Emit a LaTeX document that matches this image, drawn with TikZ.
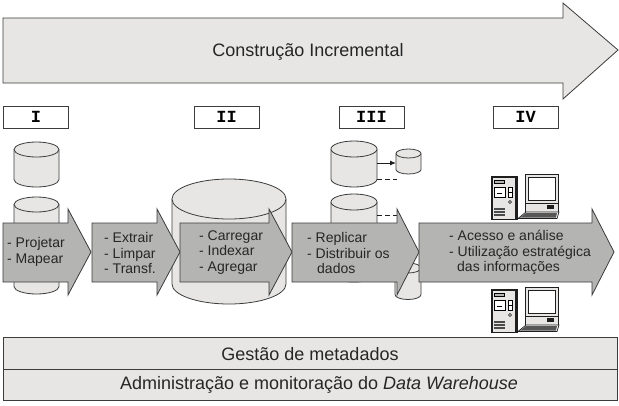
\documentclass[tikz,border=0pt]{standalone}
\usepackage{fontspec}
\setmainfont{Liberation Sans}
\newfontfamily\tagfont{Liberation Mono}
\definecolor{lightfill}{HTML}{E7E6E5}
\definecolor{arrowfill}{HTML}{B4B4B3}
\definecolor{edge}{HTML}{3C3C3C}
\definecolor{tickc}{HTML}{1E1E1E}
\tikzset{
  x=1pt,y=-1pt,
  shapeline/.style={draw=edge,line width=0.8pt,line join=miter},
  lightshape/.style={shapeline,fill=lightfill},
  flowarrow/.style={shapeline,fill=arrowfill},
  tagbox/.style={draw=edge,line width=0.8pt,fill=white,minimum width=65pt,minimum height=22pt,inner sep=0pt,font=\tagfont\bfseries\fontsize{17}{19}\selectfont},
  flowtext/.style={anchor=west,inner sep=0pt,align=left,text=black!85,font=\fontsize{14}{15.8}\selectfont},
  bandtext/.style={inner sep=0pt,text=black!85,font=\fontsize{18}{21}\selectfont},
  pc/.pic={
    % tower
    \draw[line width=0.7pt,draw=tickc,fill=lightfill] (0,2) rectangle (26,45);
    \draw[fill=tickc,draw=none] (0,2) rectangle (2,45);
    \draw[fill=tickc,draw=none] (24,2) rectangle (26,45);
    \draw[fill=tickc,draw=none] (0,2) rectangle (26,4);
    \draw[line width=0.5pt,fill=arrowfill] (3,6) rectangle (13,9);
    \draw[line width=0.6pt,fill=white] (3,13) rectangle (14,23);
    \draw[line width=0.5pt] (6,19) -- (11,19);
    \draw[line width=0.6pt,fill=white] (17,13) rectangle (21,23);
    \draw[line width=0.5pt] (17,18) -- (21,18);
    \draw[line width=0.6pt,fill=white] (19,28) circle (1.5);
    \fill[tickc!80] (3,34) rectangle (14,36);
    \fill[tickc!80] (3,37) rectangle (14,39);
    \fill[tickc!80] (3,40) rectangle (14,42);
    % monitor
    \draw[line width=0.8pt,draw=tickc,fill=lightfill] (34,0) rectangle (67,29);
    \draw[line width=0.8pt,draw=tickc,fill=white] (37,3) rectangle (64,26);
    \draw[line width=0.8pt,draw=tickc,fill=lightfill] (34,29) rectangle (67,38);
    \fill[tickc] (56,31) rectangle (63,35);
    % keyboard
    \draw[line width=0.7pt,draw=tickc,fill=white] (27,44.5) -- (35,38) -- (68,38) -- (66,44.5) -- cycle;
    \fill[tickc!75] (29,43.5) -- (35,39) -- (66,39) -- (65,43.5) -- cycle;
  }
}
\usetikzlibrary{arrows.meta}
\newcommand{\cyl}[5]{% left, right, top centre y, bottom centre y, ry
  \draw[lightshape] (#1,#3) -- (#1,#4) arc[start angle=180,end angle=0,x radius={(#2-#1)/2},y radius=#5] -- (#2,#3);
  \draw[lightshape] ({(#1+#2)/2},#3) ellipse[x radius={(#2-#1)/2},y radius=#5];
}
\newcommand{\flowarrowpath}[3]{% x0 x1 xtip
  \draw[flowarrow] (#1,223) -- (#2,223) -- (#2,209) -- (#3,252) -- (#2,295) -- (#2,282) -- (#1,282) -- cycle;
}
\begin{document}
\begin{tikzpicture}
\useasboundingbox (0,0) rectangle (619,405);
\fill[white] (0,0) rectangle (619,405);
% Incremental construction arrow
\draw[lightshape] (3,18) -- (563,18) -- (563,3) -- (618,50) -- (563,99) -- (563,83) -- (3,83) -- cycle;
\node[bandtext] (title) at (308,51.5) {Construção Incremental};
% Phase tags
\node[tagbox] (t1) at (36,117) {I};
\node[tagbox] (t2) at (226.5,117) {II};
\node[tagbox] (t3) at (371.5,117) {III};
\node[tagbox] (t4) at (525.5,117) {IV};
% Cylinders
\cyl{14}{59}{149.5}{179.5}{7.5}
\cyl{14}{59}{204.5}{286.5}{7.5}
\cyl{172}{286}{199}{284}{20}
\cyl{331}{377}{149}{179}{8}
\cyl{396}{421}{153.5}{169.5}{4.5}
\cyl{331}{377}{202}{274}{8}
\cyl{395}{421}{268}{294.5}{5}
\coordinate (ca) at (377,163);
\coordinate (cb) at (396,163);
\coordinate (da) at (377,179.5);
\coordinate (db) at (397,179.5);
\coordinate (dc) at (377,215);
\coordinate (dd) at (397,215);
\draw[line width=0.9pt,draw=tickc,-{Latex[length=6pt,width=5pt]}] (ca) -- (cb);
\draw[line width=0.8pt,draw=tickc,dash pattern=on 5pt off 3pt] (da) -- (db);
\draw[line width=0.8pt,draw=tickc,dash pattern=on 5pt off 3pt] (dc) -- (dd);
% Computers
\pic at (491,174) {pc};
\pic at (491,287) {pc};
% Flow arrows
\flowarrowpath{3}{68}{91}
\flowarrowpath{92}{157}{180}
\flowarrowpath{180}{269}{292}
\flowarrowpath{292}{397}{419}
\flowarrowpath{419}{592}{614}
\node[flowtext] (f1) at (7,252) {- Projetar\\- Mapear};
\node[flowtext] (f2) at (104,253) {- Extrair\\- Limpar\\- Transf.};
\node[flowtext] (f3) at (199,252.5) {- Carregar\\- Indexar\\- Agregar};
\node[flowtext] (f4) at (307,253) {- Replicar\\- Distribuir os\\\hspace*{10pt}dados};
\node[flowtext] (f5) at (449,252.5) {- Acesso e análise\\- Utilização estratégica\\\hspace*{8pt}das informações};
% Bottom bands
\draw[lightshape] (3,337) rectangle (617,369);
\draw[lightshape] (3,369) rectangle (617,400);
\node[bandtext] (b1) at (310,354) {Gestão de metadados};
\node[bandtext] (b2) at (319,384.5) {Administração e monitoração do \textit{Data Warehouse}};
\end{tikzpicture}
\end{document}
